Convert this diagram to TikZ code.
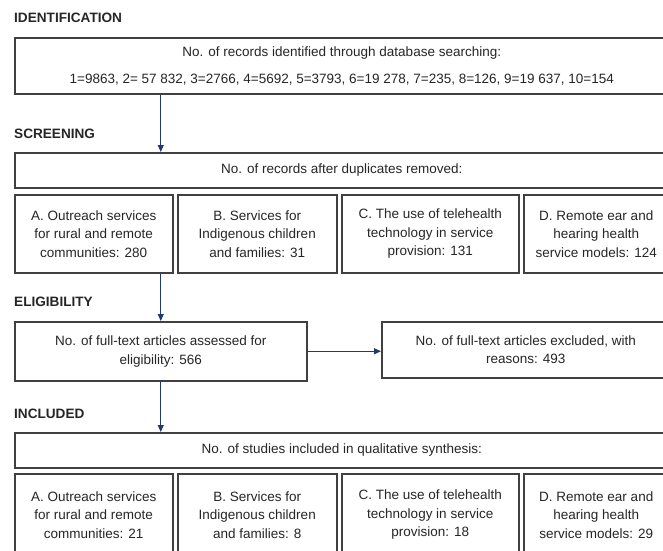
\documentclass[tikz,border=0pt]{standalone}
\usepackage{fontspec}
\setmainfont{Liberation Sans}
\usepackage{xcolor}
\usetikzlibrary{arrows.meta,calc}
\definecolor{bx}{HTML}{404040}
\definecolor{tx}{HTML}{262626}
\definecolor{ar}{HTML}{1E3A6E}
\tikzset{
  stage/.style={anchor=west, inner sep=0pt, text=tx, font=\fontsize{13.6}{16}\selectfont\bfseries},
  box/.style={draw=bx, line width=1.5pt, anchor=north west, align=center, inner sep=2pt,
    text=tx, font=\fontsize{13.5}{18.5}\selectfont},
  flow/.style={draw=ar, line width=1.1pt, -{Triangle[length=7pt,width=6pt]}}
}

\begin{document}
\begin{tikzpicture}[x=1pt,y=-1pt]
  \useasboundingbox (0,0) rectangle (663,550);
  \fill[white] (0,0) rectangle (663,550);
  \clip (0,0) rectangle (663,550);
  % identification
  \node[stage] (ident) at (14,18) {IDENTIFICATION};
  \node[box, minimum width=654, minimum height=56] (records) at (14,37) {%
    No. of records identified through database searching:\\[9pt]
    1=9863, 2= 57 832, 3=2766, 4=5692, 5=3793, 6=19 278, 7=235, 8=126, 9=19 637, 10=154};
  % screening
  \node[stage] (screen) at (14,134) {SCREENING};
  \node[box, minimum width=654, minimum height=35] (dedup) at (14,152)
    {No. of records after duplicates removed:};
  \node[box, minimum width=158, minimum height=78] (scrA) at (14,194)
    {A. Outreach services\\ for rural and remote\\ communities: 280};
  \node[box, minimum width=159, minimum height=78] (scrB) at (177,194)
    {B. Services for\\ Indigenous children\\ and families: 31};
  \node[box, minimum width=177, minimum height=78] (scrC) at (341,194)
    {C. The use of telehealth\\ technology in service\\ provision: 131};
  \node[box, minimum width=145, minimum height=78] (scrD) at (523,194)
    {D. Remote ear and\\ hearing health\\ service models: 124};
  % eligibility
  \node[stage] (elig) at (14,302) {ELIGIBILITY};
  \node[box, minimum width=292, minimum height=59] (full) at (14,321)
    {No. of full-text articles assessed for\\ eligibility: 566};
  \node[box, minimum width=288, minimum height=56] (excl) at (381,321)
    {No. of full-text articles excluded, with\\ reasons: 493};
  % included
  \node[stage] (incl) at (14,414) {INCLUDED};
  \node[box, minimum width=654, minimum height=35] (synth) at (14,432)
    {No. of studies included in qualitative synthesis:};
  \node[box, minimum width=158, minimum height=82] (incA) at (14,473)
    {A. Outreach services\\ for rural and remote\\ communities: 21};
  \node[box, minimum width=159, minimum height=82] (incB) at (177,473)
    {B. Services for\\ Indigenous children\\ and families: 8};
  \node[box, minimum width=177, minimum height=82] (incC) at (341,473)
    {C. The use of telehealth\\ technology in service\\ provision: 18};
  \node[box, minimum width=145, minimum height=82] (incD) at (523,473)
    {D. Remote ear and\\ hearing health\\ service models: 29};
  % arrows
  \draw[flow] (records.south -| full.north) -- (dedup.north -| full.north);
  \draw[flow] (scrA.south -| full.north) -- (full.north);
  \draw[flow] (full.east) -- (full.east -| excl.west);
  \draw[flow] (full.south) -- (synth.north -| full.north);
\end{tikzpicture}
\end{document}
